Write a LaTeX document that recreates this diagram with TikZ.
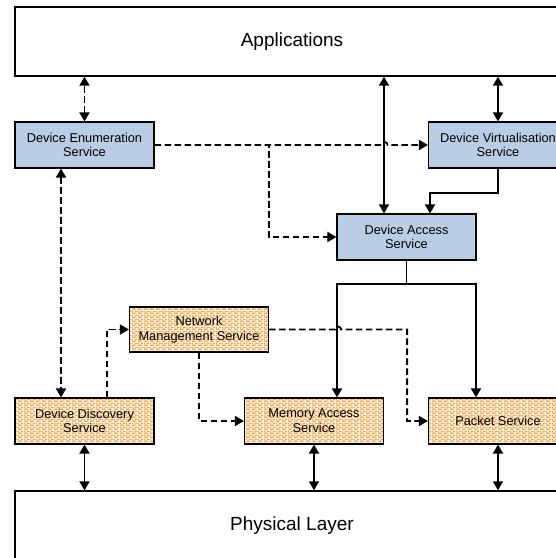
\documentclass[tikz,border=0pt]{standalone}
\usepackage{fontspec}
\setmainfont{Liberation Sans}
\usepackage{tikz}
\usetikzlibrary{arrows.meta,calc,positioning,patterns}
\definecolor{svcblue}{HTML}{B9CDE5}
\definecolor{svccream}{HTML}{F9EFDD}
\definecolor{svcorange}{HTML}{F0A040}
\pgfdeclarepatternformonly{orangedash}{\pgfqpoint{0pt}{0pt}}{\pgfqpoint{6pt}{4pt}}{\pgfqpoint{6pt}{4pt}}{%
  \pgfsetlinewidth{1.5pt}%
  \pgfpathmoveto{\pgfqpoint{0.5pt}{1pt}}\pgfpathlineto{\pgfqpoint{4pt}{1pt}}%
  \pgfpathmoveto{\pgfqpoint{3.5pt}{3pt}}\pgfpathlineto{\pgfqpoint{6pt}{3pt}}%
  \pgfpathmoveto{\pgfqpoint{0pt}{3pt}}\pgfpathlineto{\pgfqpoint{1pt}{3pt}}%
  \pgfusepath{stroke}}

\begin{document}
\begin{tikzpicture}[x=1pt,y=-1pt,line width=1.8pt,>={Triangle[length=9pt,width=10pt]},
    layer/.style={draw,line width=1.4pt,minimum width=554pt,minimum height=69pt,
      font=\fontsize{19}{22}\selectfont},
    svc/.style={draw,line width=1.2pt,minimum width=139pt,minimum height=46pt,
      align=center,inner sep=1pt,font=\fontsize{12.8}{14.7}\selectfont},
    bluesvc/.style={svc,fill=svcblue},
    orangesvc/.style={svc,preaction={fill=svccream},
      preaction={pattern=orangedash,pattern color=svcorange}},
    dashlink/.style={dash pattern=on 6.5pt off 3.5pt}]
        \useasboundingbox (0,0) rectangle (556,558);
        \clip (0,0) rectangle (556,558);
        \node[layer] (App) at (292,41.5) {Applications};
        \node[layer] (Phy) at (292,525.5) {Physical Layer};
        \node[bluesvc] (DES) at (84.5,145) {Device Enumeration\\Service};
        \node[bluesvc] (DVS) at (498,145) {Device Virtualisation\\Service};
        \node[bluesvc] (DAS) at (406.5,237) {Device Access\\Service};
        \node[orangesvc,minimum height=45pt] (NMS) at (199,329.5) {Network\\Management Service};
        \node[orangesvc] (DDS) at (84.5,421) {Device Discovery\\Service};
        \node[orangesvc] (MAS) at (314,421) {Memory Access\\Service};
        \node[orangesvc] (PS) at (498,421) {Packet Service};
        % to applications
        \draw[dashlink,<->] (DES.north) -- (DES.north |- App.south);
        \draw[<->] ([xshift=-22.5pt]DAS.north) -- ([xshift=-22.5pt]DAS.north |- App.south);
        \draw[<->] (DVS.north) -- (DVS.north |- App.south);
        % enumeration
        \draw[dashlink,->] (DES.east) -- ++(227,0) arc[start angle=180,end angle=360,radius=3] -- (DVS.west);
        \draw[dashlink,->] (DES.east) -- ++(114,0) |- (DAS.west);
        \draw[->] (DVS.south) -- ++(0,24) -| ([xshift=23.5pt]DAS.north);
        \draw[->] (DAS.south) -- ++(0,23) -| ([xshift=23pt]MAS.north);
        \draw[->] (DAS.south) -- ++(0,23) -| ([xshift=-22pt]PS.north);
        % discovery
        \draw[dashlink,<->] ([xshift=-23.5pt]DES.south) -- ([xshift=-23.5pt]DDS.north);
        \draw[dashlink,->] ([xshift=22.5pt]DDS.north) |- (NMS.west);
        \draw[dashlink,->] (NMS.south) |- (MAS.west);
        \draw[dashlink,->] (NMS.east) -- ++(66,0) arc[start angle=180,end angle=360,radius=3] -- ++(66,0) |- (PS.west);
        % to physical layer
        \foreach \n in {DDS,MAS,PS}
          \draw[<->] (\n.south) -- (\n.south |- Phy.north);
\end{tikzpicture}
\end{document}
